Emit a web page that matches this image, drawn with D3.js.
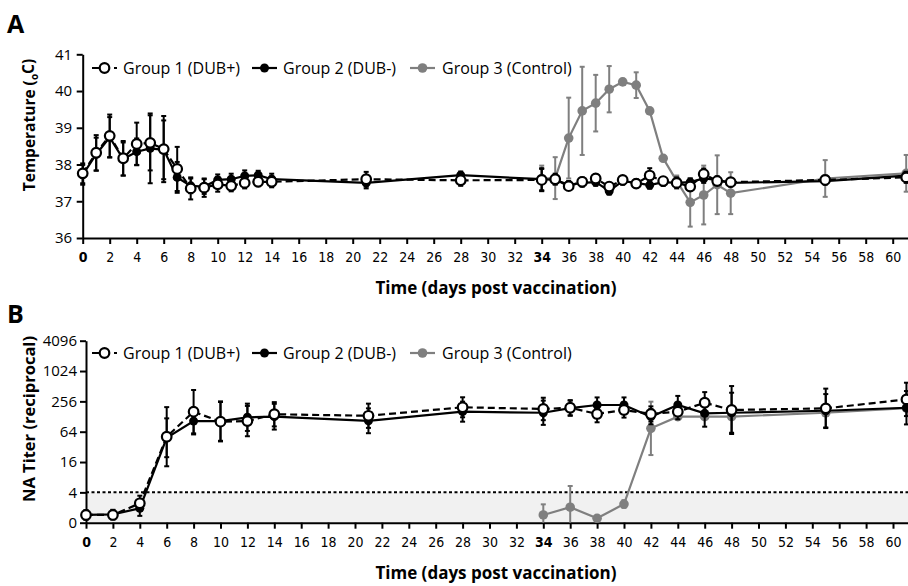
<!DOCTYPE html>
<html>
<head>
<meta charset="utf-8">
<script src="https://cdn.jsdelivr.net/npm/d3@7"></script>
<style>
  body { margin: 0; background: #fff; }
  svg { display: block; }
</style>
</head>
<body>
<div id="chart"></div>
<script>
var svgWidth = 908;
var svgHeight = 586;

// Panel A: temperature (days, mean, sd)
var daysA = [0, 1, 2, 3, 4, 5, 6, 7, 8, 9, 10, 11, 12, 13, 14, 21, 28,
  34, 35, 36, 37, 38, 39, 40, 41, 42, 43, 44, 45, 46, 47, 48, 55, 61];
var g1Temp = [37.76, 38.32, 38.78, 38.17, 38.56, 38.59, 38.42, 37.88, 37.35, 37.37, 37.46, 37.42, 37.50, 37.53, 37.53, 37.60, 37.57,
  37.58, 37.60, 37.41, 37.53, 37.62, 37.40, 37.58, 37.48, 37.70, 37.55, 37.50, 37.40, 37.74, 37.55, 37.52, 37.58, 37.65];
var g1TempSd = [0.27, 0.48, 0.58, 0.47, 0.58, 0.75, 0.9, 0.6, 0.3, 0.25, 0.2, 0.15, 0.15, 0.12, 0.15, 0.2, 0.15,
  0.3, 0.15, 0.1, 0.12, 0.12, 0.1, 0.1, 0.1, 0.2, 0.1, 0.1, 0.1, 0.15, 0.1, 0.1, 0.1, 0.15];
var g2Temp = [37.72, 38.28, 38.74, 38.15, 38.35, 38.44, 38.40, 37.65, 37.42, 37.40, 37.58, 37.60, 37.69, 37.71, 37.60, 37.50, 37.71,
  37.60, 37.58, 37.45, 37.50, 37.52, 37.28, 37.55, 37.50, 37.44, 37.52, 37.50, 37.52, 37.62, 37.58, 37.50, 37.55, 37.70];
var g2TempSd = [0.27, 0.45, 0.55, 0.45, 0.36, 0.95, 0.8, 0.42, 0.2, 0.2, 0.15, 0.15, 0.15, 0.12, 0.15, 0.15, 0.1,
  0.3, 0.1, 0.1, 0.1, 0.1, 0.1, 0.1, 0.1, 0.1, 0.1, 0.15, 0.1, 0.12, 0.1, 0.1, 0.1, 0.1];
var daysCtrlA = [34, 35, 36, 37, 38, 39, 40, 41, 42, 43, 44, 45, 46, 47, 48, 55, 61];
var g3Temp = [37.62, 37.63, 38.72, 39.46, 39.67, 40.05, 40.25, 40.16, 39.46, 38.17, 37.55, 36.97, 37.17, 37.45, 37.22, 37.62, 37.76];
var g3TempSd = [0.35, 0.57, 1.1, 1.2, 0.77, 0.63, 0.08, 0.35, 0.05, 0.05, 0.15, 0.66, 0.8, 0.8, 0.57, 0.5, 0.5];

// Panel B: NA titer, log2 units
var daysB = [0, 2, 4, 6, 8, 10, 12, 14, 21, 28, 34, 36, 38, 40, 42, 44, 46, 48, 55, 61];
var g1Titer = [0.51, 0.51, 1.28, 5.67, 7.32, 6.66, 6.70, 7.15, 7.05, 7.61, 7.50, 7.58, 7.17, 7.43, 7.17, 7.32, 7.91, 7.43, 7.54, 8.13];
var g1TiterSd = [0.3, 0.3, 0.5, 1.95, 1.43, 1.3, 1.0, 0.8, 0.8, 0.66, 0.74, 0.5, 0.55, 0.5, 0.5, 0.5, 0.7, 1.58, 1.3, 1.1];
var g2Titer = [0.51, 0.55, 0.95, 5.6, 6.7, 6.7, 6.95, 6.99, 6.72, 7.32, 7.25, 7.55, 7.76, 7.76, 6.99, 7.76, 7.21, 7.25, 7.38, 7.58];
var g2TiterSd = [0.3, 0.3, 0.5, 1.28, 0.88, 1.3, 0.9, 0.85, 0.82, 0.66, 0.8, 0.5, 0.5, 0.5, 0.5, 0.6, 0.88, 1.32, 1.1, 1.1];
var daysCtrlB = [34, 36, 38, 40, 42, 44, 46, 48, 55, 61];
var g3Titer = [0.51, 1.02, 0.29, 1.23, 6.22, 6.99, 6.99, 7.0, 7.25, 7.55];
var g3TiterSd = [0.7, 1.4, 0.15, 0.25, 1.76, 0.1, 0.1, 0.1, 0.1, 0.1];

var tempTicks = [36, 37, 38, 39, 40, 41];
var titerTicks = [0, 2, 4, 6, 8, 10, 12];
var titerLabels = ["0", "4", "16", "64", "256", "1024", "4096"];
var detectLimit = 2; // log2(4)
var dayTicks = d3.range(0, 61, 2);
var boldDays = [0, 34];
var groupNames = ["Group 1 (DUB+)", "Group 2 (DUB-)", "Group 3 (Control)"];

var textFont = "'Open Sans', 'Noto Sans', sans-serif";
var tickFont = "'Liberation Sans Narrow', 'DejaVu Sans Condensed', sans-serif";

var svg = d3.select("#chart")
  .append("svg")
  .attr("width", svgWidth)
  .attr("height", svgHeight);

var styles = [
  { color: "#000", dash: "7,4", fill: "#fff", r: 4.8 },
  { color: "#000", dash: null, fill: "#000", r: 4.5 },
  { color: "#7f7f7f", dash: null, fill: "#7f7f7f", r: 4.8 }
];

// draw one series: line, error bars, markers
function drawGroup(g, x, y, days, mean, sd, st, yMin) {
  var pts = days.map(function(d, i) { return { day: d, m: mean[i], s: sd[i] }; });
  var grp = g.append("g");

  grp.append("path")
    .datum(pts)
    .attr("fill", "none")
    .attr("stroke", st.color)
    .attr("stroke-width", 2.2)
    .attr("stroke-dasharray", st.dash)
    .attr("d", d3.line().x(d => x(d.day)).y(d => y(d.m)));

  var bars = grp.selectAll(".err")
    .data(pts)
    .enter()
    .append("g");
  bars.append("line")
    .attr("x1", d => x(d.day)).attr("x2", d => x(d.day))
    .attr("y1", d => y(Math.max(yMin, d.m - d.s)))
    .attr("y2", d => y(d.m + d.s))
    .attr("stroke", st.color).attr("stroke-width", 2);
  bars.append("line")
    .attr("x1", d => x(d.day) - 2.5).attr("x2", d => x(d.day) + 2.5)
    .attr("y1", d => y(d.m + d.s)).attr("y2", d => y(d.m + d.s))
    .attr("stroke", st.color).attr("stroke-width", 2);
  bars.filter(d => d.m - d.s > yMin).append("line")
    .attr("x1", d => x(d.day) - 2.5).attr("x2", d => x(d.day) + 2.5)
    .attr("y1", d => y(d.m - d.s)).attr("y2", d => y(d.m - d.s))
    .attr("stroke", st.color).attr("stroke-width", 2);

  grp.selectAll("circle")
    .data(pts)
    .enter()
    .append("circle")
    .attr("cx", d => x(d.day))
    .attr("cy", d => y(d.m))
    .attr("r", st.r)
    .attr("fill", st.fill)
    .attr("stroke", st.color)
    .attr("stroke-width", st.fill === "#fff" ? 2.2 : 0);
}

function drawLegend(g, cy) {
  var symX = [92, 252, 410];
  var txtX = [123, 283, 442];
  groupNames.forEach(function(name, i) {
    var st = styles[i];
    g.append("line")
      .attr("x1", symX[i]).attr("x2", symX[i] + 25)
      .attr("y1", cy).attr("y2", cy)
      .attr("stroke", st.color).attr("stroke-width", 2.2)
      .attr("stroke-dasharray", st.dash);
    g.append("circle")
      .attr("cx", symX[i] + 12.5).attr("cy", cy).attr("r", st.r)
      .attr("fill", st.fill).attr("stroke", st.color)
      .attr("stroke-width", st.fill === "#fff" ? 2.2 : 0);
    g.append("text")
      .attr("x", txtX[i]).attr("y", cy).attr("dy", "0.36em")
      .style("font-family", textFont).style("font-size", "16px")
      .text(name);
  });
}

function styleAxis(ax) {
  ax.select(".domain").attr("stroke-width", 2);
  ax.selectAll(".tick line").attr("stroke-width", 2);
}

function drawXAxis(g, x, y0) {
  var ax = g.append("g")
    .attr("transform", `translate(0, ${y0})`)
    .call(d3.axisBottom(x).tickValues(dayTicks).tickSize(6).tickSizeOuter(0).tickPadding(8));
  styleAxis(ax);
  ax.selectAll(".tick text")
    .style("font-family", tickFont).style("font-size", "14px")
    .style("font-weight", d => boldDays.indexOf(d) >= 0 ? "bold" : "normal");
  g.append("text")
    .attr("x", 496).attr("y", y0 + 56)
    .attr("text-anchor", "middle")
    .style("font-family", textFont).style("font-size", "17px").style("font-weight", "bold")
    .text("Time (days post vaccination)");
}

// ---------- Panel A ----------
var gA = svg.append("g");
var xA = d3.scaleLinear().domain([0, 62]).range([82.7, 82.7 + 62 * 13.5]);
var yA = d3.scaleLinear().domain([36, 41]).range([238, 54.3]);

drawXAxis(gA, xA, yA(36));
var yAxisA = gA.append("g")
  .attr("transform", `translate(${xA(0)}, 0)`)
  .call(d3.axisLeft(yA).tickValues(tempTicks).tickSize(6).tickSizeOuter(0).tickPadding(4.5)
    .tickFormat(d3.format("d")));
styleAxis(yAxisA);
yAxisA.selectAll(".tick text").style("font-family", textFont).style("font-size", "15px");

var titleA = gA.append("text")
  .attr("transform", "translate(35, 125) rotate(-90)")
  .attr("text-anchor", "middle")
  .style("font-family", textFont).style("font-size", "15.5px").style("font-weight", "bold");
titleA.append("tspan").text("Temperature (");
titleA.append("tspan").attr("dy", "0.25em").style("font-size", "10px").text("o");
titleA.append("tspan").attr("dy", "-0.25em").text("C)");

gA.append("text").attr("x", 7).attr("y", 33)
  .style("font-family", textFont).style("font-size", "25px").style("font-weight", "bold")
  .text("A");

drawGroup(gA, xA, yA, daysCtrlA, g3Temp, g3TempSd, styles[2], 36);
drawGroup(gA, xA, yA, daysA, g2Temp, g2TempSd, styles[1], 36);
drawGroup(gA, xA, yA, daysA, g1Temp, g1TempSd, styles[0], 36);
drawLegend(gA, 68);

// ---------- Panel B ----------
var gB = svg.append("g");
var xB = d3.scaleLinear().domain([0, 62]).range([86, 86 + 62 * 13.45]);
var yB = d3.scaleLinear().domain([0, 12]).range([522.7, 340.7]);

gB.append("rect")
  .attr("x", xB(0)).attr("y", yB(detectLimit))
  .attr("width", svgWidth - xB(0)).attr("height", yB(0) - yB(detectLimit))
  .attr("fill", "#f1f1f1");
gB.append("line")
  .attr("x1", xB(0)).attr("x2", svgWidth)
  .attr("y1", yB(detectLimit)).attr("y2", yB(detectLimit))
  .attr("stroke", "#000").attr("stroke-width", 2).attr("stroke-dasharray", "3,2.5");

drawXAxis(gB, xB, yB(0));
var yAxisB = gB.append("g")
  .attr("transform", `translate(${xB(0)}, 0)`)
  .call(d3.axisLeft(yB).tickValues(titerTicks).tickSize(6).tickSizeOuter(0).tickPadding(3)
    .tickFormat((d, i) => titerLabels[i]));
styleAxis(yAxisB);
yAxisB.selectAll(".tick text").style("font-family", textFont).style("font-size", "15px");

gB.append("text")
  .attr("transform", "translate(35, 419) rotate(-90)")
  .attr("text-anchor", "middle")
  .style("font-family", textFont).style("font-size", "16.5px").style("font-weight", "bold")
  .text("NA Titer (reciprocal)");

gB.append("text").attr("x", 7).attr("y", 323)
  .style("font-family", textFont).style("font-size", "25px").style("font-weight", "bold")
  .text("B");

drawGroup(gB, xB, yB, daysCtrlB, g3Titer, g3TiterSd, styles[2], 0);
drawGroup(gB, xB, yB, daysB, g2Titer, g2TiterSd, styles[1], 0);
drawGroup(gB, xB, yB, daysB, g1Titer, g1TiterSd, styles[0], 0);
drawLegend(gB, 353);
</script>
</body>
</html>
